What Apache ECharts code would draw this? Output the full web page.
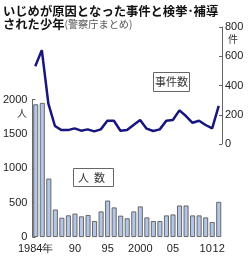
<!DOCTYPE html>
<html><head><meta charset="utf-8">
<script src="https://cdn.jsdelivr.net/npm/echarts@6/dist/echarts.min.js"></script>
<style>html,body{margin:0;padding:0;background:#fff}#c{width:250px;height:256px}</style>
</head><body><div id="c"></div>
<script>
const years = ['1984','1985','1986','1987','1988','1989','1990','1991','1992','1993','1994','1995','1996','1997','1998','1999','2000','2001','2002','2003','2004','2005','2006','2007','2008','2009','2010','2011','2012'];
// 検挙・補導された少年 (人, left axis)
const persons = [1930,1950,850,400,280,315,340,300,320,232,372,530,430,310,272,372,445,285,232,232,314,328,458,458,314,314,285,218,511];
// 事件数 (件, right axis)
const cases = [531,642,276,123,95,95,107,91,100,86,100,159,159,91,95,130,164,105,89,100,159,164,230,191,145,159,130,107,260];
const xTickLabels = {'1984':'1984年','1990':'90','1995':'95','2000':'2000','2005':'05','2010':'10','2012':'12'};
const titleLine1 = 'いじめが原因となった事件と検挙･補導';
const titleLine2a = 'された少年';
const titleLine2b = '(警察庁まとめ)';

const FONT = '"Liberation Sans", Arial, sans-serif';
const JFONT = '"Noto Sans CJK JP", sans-serif';
const chart = echarts.init(document.getElementById('c'), null, {renderer:'canvas'});
chart.setOption({
  animation:false,
  grid:[
    {left:32, right:28, top:99.5, bottom:19},
    {left:32, right:28, top:27, bottom:112}
  ],
  xAxis:[
    {gridIndex:0, type:'category', data:years, boundaryGap:true,
     axisLine:{show:false}, axisTick:{show:false},
     axisLabel:{interval:(i,v)=>xTickLabels[v]!==undefined, formatter:v=>xTickLabels[v]||'',
       color:'#222', fontFamily:FONT, fontSize:11, margin:6}},
    {gridIndex:1, type:'category', data:years, boundaryGap:true, show:false}
  ],
  yAxis:[
    {gridIndex:0, type:'value', min:0, max:2000, interval:500, position:'left',
     axisLine:{show:true, lineStyle:{color:'#666', width:1}},
     axisTick:{show:true, inside:true, length:3, lineStyle:{color:'#666'}},
     splitLine:{show:false},
     axisLabel:{color:'#222', fontFamily:FONT, fontSize:11, margin:5, formatter:v=>String(v)}},
    {gridIndex:1, type:'value', min:0, max:800, interval:200, position:'right',
     axisLine:{show:true, lineStyle:{color:'#666', width:1}},
     axisTick:{show:true, inside:true, length:3, lineStyle:{color:'#666'}},
     splitLine:{show:false},
     axisLabel:{color:'#222', fontFamily:FONT, fontSize:11, margin:3, formatter:v=>String(v)}}
  ],
  series:[
    {type:'bar', xAxisIndex:0, yAxisIndex:0, data:persons, barWidth:5,
     itemStyle:{color:'#b4c6e8', borderColor:'#5a5a5a', borderWidth:0.9}},
    {type:'line', xAxisIndex:1, yAxisIndex:1, data:cases, symbol:'none', smooth:false,
     lineStyle:{color:'#16167e', width:2.5}, z:5}
  ],
  graphic:[
    {type:'text', left:3, top:5, style:{text:titleLine1, font:'bold 12.3px '+JFONT, fill:'#111'}},
    {type:'text', left:3, top:18, style:{text:'{a|'+titleLine2a+'}{b|'+titleLine2b+'}',
      rich:{a:{fontFamily:JFONT, fontSize:12.3, fontWeight:'bold', fill:'#111', color:'#111'},
            b:{fontFamily:JFONT, fontSize:10.2, fill:'#555', color:'#555'}}}},
    {type:'text', x:22, y:113, style:{text:'人', font:'10px '+JFONT, fill:'#333', align:'center', verticalAlign:'middle'}},
    {type:'text', x:233, y:39, style:{text:'件', font:'10px '+JFONT, fill:'#333', align:'center', verticalAlign:'middle'}},
    {type:'rect', shape:{x:153.5, y:72.5, width:36, height:19}, style:{fill:'#fff', stroke:'#666', lineWidth:1}},
    {type:'text', x:171.5, y:82, style:{text:'事件数', font:'11px '+JFONT, fill:'#333', align:'center', verticalAlign:'middle'}},
    {type:'rect', shape:{x:73.5, y:168.5, width:40, height:18}, style:{fill:'#fff', stroke:'#666', lineWidth:1}},
    {type:'text', x:83.5, y:177.5, style:{text:'人', font:'11px '+JFONT, fill:'#333', align:'center', verticalAlign:'middle'}},
    {type:'text', x:99.5, y:177.5, style:{text:'数', font:'11px '+JFONT, fill:'#333', align:'center', verticalAlign:'middle'}}
  ]
});
</script></body></html>
